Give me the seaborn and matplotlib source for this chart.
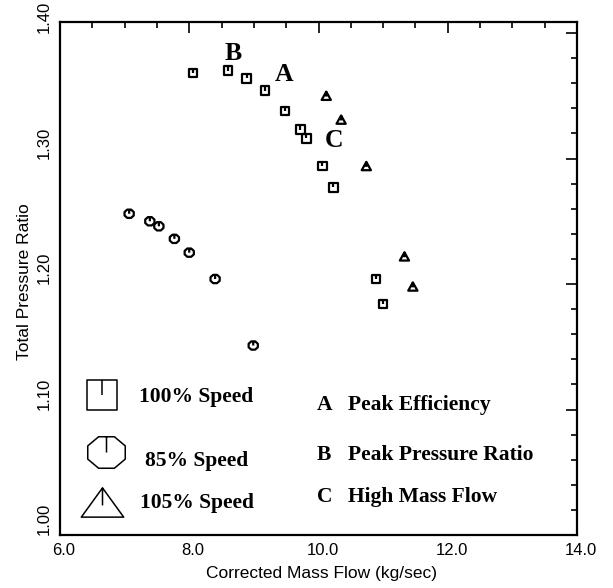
import matplotlib
matplotlib.use("Agg")
import matplotlib.pyplot as plt
import seaborn as sns
import pandas as pd
from matplotlib.path import Path
from matplotlib.ticker import MultipleLocator
import matplotlib.transforms as mtransforms

# ---------------- data ----------------
speed100_x = [8.06, 8.60, 8.89, 9.17, 9.48, 9.72, 9.81, 10.06, 10.23, 10.89, 11.00]
speed100_y = [1.368, 1.370, 1.364, 1.354, 1.338, 1.323, 1.316, 1.294, 1.277, 1.204, 1.184]

speed85_x = [7.07, 7.39, 7.53, 7.77, 8.00, 8.40, 8.99]
speed85_y = [1.256, 1.250, 1.246, 1.236, 1.225, 1.204, 1.151]

speed105_x = [10.12, 10.35, 10.74, 11.33, 11.46]
speed105_y = [1.350, 1.331, 1.294, 1.222, 1.198]

series_names = ["100% Speed", "85% Speed", "105% Speed"]
note_letters = ["A", "B", "C"]
note_texts = ["Peak Efficiency", "Peak Pressure Ratio", "High Mass Flow"]
note_x = [9.33, 8.55, 10.10]
note_y = [1.3618, 1.3785, 1.3092]

x_ticks = [6.0, 8.0, 10.0, 12.0, 14.0]
y_ticks = [1.00, 1.10, 1.20, 1.30, 1.40]

# ---------------- marker shapes ----------------
M, L, C = Path.MOVETO, Path.LINETO, Path.CLOSEPOLY


def square_marker():
    v = [(-1, -1), (1, -1), (1, 1), (-1, 1), (-1, -1), (0, 1), (0, 0)]
    c = [M, L, L, L, C, M, L]
    return Path(v, c)


def octagon_marker(ay=0.88):
    a = 0.42
    pts = [(-a, 1), (a, 1), (1, a), (1, -a), (a, -1), (-a, -1), (-1, -a), (-1, a)]
    pts = [(px, py * ay) for px, py in pts]
    v = pts + [pts[0], (0, ay), (0, 0)]
    c = [M] + [L] * 7 + [C, M, L]
    return Path(v, c)


def triangle_marker(ay=0.85):
    v = [(-1, -ay), (1, -ay), (0, ay), (-1, -ay), (0, ay), (0, -0.2 * ay)]
    c = [M, L, L, C, M, L]
    return Path(v, c)


sq = square_marker()
octd = octagon_marker(0.9)
trid = triangle_marker(0.9)
octl = octagon_marker(0.84)
tril = triangle_marker(0.69)

# ---------------- figure ----------------
sns.set_style("white")
plt.rcParams["font.family"] = ["Liberation Sans", "DejaVu Sans"]

W, H = 613, 588
fig = plt.figure(figsize=(W / 100, H / 100), dpi=100)
ax = fig.add_axes([60 / W, 1 - 535 / H, 517 / W, 513 / H])

df100 = pd.DataFrame({"x": speed100_x, "y": speed100_y})
df85 = pd.DataFrame({"x": speed85_x, "y": speed85_y})
df105 = pd.DataFrame({"x": speed105_x, "y": speed105_y})

common = dict(color="black", facecolor="none", edgecolor="black", linewidth=1.6, ax=ax, legend=False)
sns.scatterplot(data=df100, x="x", y="y", marker=sq, s=38, **common)
sns.scatterplot(data=df85, x="x", y="y", marker=octd, s=44, **common)
sns.scatterplot(data=df105, x="x", y="y", marker=trid, s=44, **common)

ax.set_xlim(6.0, 14.0)
ax.set_ylim(1.0, 1.4088)
ax.set_xticks(x_ticks)
ax.set_xticklabels([f"{v:.1f}" for v in x_ticks])
ax.set_yticks(y_ticks)
ax.set_yticklabels([f"{v:.2f}" for v in y_ticks], rotation=90, va="bottom", ha="right")
ax.xaxis.set_minor_locator(MultipleLocator(0.5))
ax.yaxis.set_minor_locator(MultipleLocator(0.02))
ax.tick_params(which="both", direction="in", top=True, right=True, width=1.2, colors="black")
ax.tick_params(which="major", length=8, labelsize=12, pad=6)
ax.tick_params(which="minor", length=4.5)
for sp in ax.spines.values():
    sp.set_linewidth(1.6)
    sp.set_color("black")

shift = mtransforms.ScaledTranslation(4 / 100, 0, fig.dpi_scale_trans)
for lab in ax.get_xticklabels():
    lab.set_transform(lab.get_transform() + shift)

ax.set_xlabel("Corrected Mass Flow (kg/sec)", fontsize=12.5, color="black")
ax.xaxis.set_label_coords((321 - 60) / 517, (535 - 566) / 513)
ax.set_ylabel("Total Pressure Ratio", fontsize=12.5, color="black")
ax.yaxis.set_label_coords((32 - 60) / 517, (535 - 282) / 513)

# annotation letters on the data
serif = ["Liberation Serif", "DejaVu Serif"]
for lt, xx, yy in zip(note_letters, note_x, note_y):
    ax.text(xx, yy, lt, family=serif, weight="bold", fontsize=18.5,
            ha="left", va="baseline", color="black")


# legend block (pixel positions -> axes fraction)
def axf(px, py):
    return (px - 60) / 517, (535 - py) / 513


leg_kw = dict(transform=ax.transAxes, clip_on=False, linestyle="none",
              markerfacecolor="none", markeredgecolor="black", markeredgewidth=1.1)
ax.plot(*[[v] for v in axf(101.5, 394.5)], marker=sq, markersize=21, **leg_kw)
ax.plot(*[[v] for v in axf(105.5, 451.5)], marker=octl, markersize=27, **leg_kw)
ax.plot(*[[v] for v in axf(102, 501.5)], marker=tril, markersize=30.5, **leg_kw)

txt_kw = dict(family=serif, weight="bold", fontsize=15.5, ha="left", va="baseline", color="black")
for name, (px, py) in zip(series_names, [(139, 402), (145, 466), (140, 508)]):
    fig.text(px / W, 1 - py / H, name, **txt_kw)

for lt, tx, py in zip(note_letters, note_texts, [410, 460, 502]):
    fig.text(317 / W, 1 - py / H, lt, **txt_kw)
    fig.text(348 / W, 1 - py / H, tx, **txt_kw)

fig.savefig("out.png", dpi=100, facecolor="white")
